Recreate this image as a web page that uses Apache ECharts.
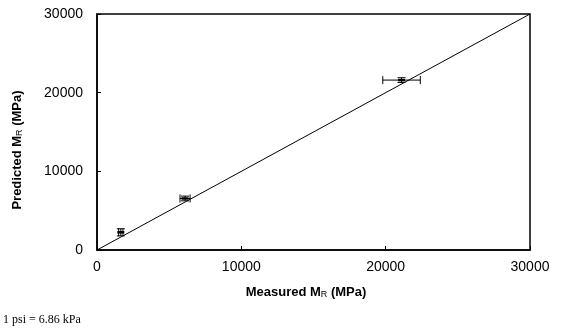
<!DOCTYPE html>
<html>
<head>
<meta charset="utf-8">
<script src="https://cdn.jsdelivr.net/npm/echarts@6/dist/echarts.min.js"></script>
<style>html,body{margin:0;padding:0;background:#fff}#c{width:563px;height:328px}</style>
</head>
<body>
<div id="c"></div>
<script>
var measured = [1650, 6100, 21100];
var predicted = [2250, 6550, 21600];
var measuredErr = [150, 350, 1300];
var predictedErr = [450, 300, 300];
var xTicks = [0, 10000, 20000, 30000];
var yTicks = [0, 10000, 20000, 30000];
var lineX = [0, 30000];

var chart = echarts.init(document.getElementById('c'));
var errData = measured.map(function (m, i) {
  return [m, predicted[i], measuredErr[i], predictedErr[i]];
});
var cap = 4;
var fmt = function (v) { return String(v); };
chart.setOption({
  animation: false,
  backgroundColor: '#fff',
  grid: { left: 97, top: 14, width: 433, height: 236, containLabel: false },
  xAxis: {
    type: 'value', min: xTicks[0], max: xTicks[xTicks.length - 1], interval: 10000,
    axisLine: { lineStyle: { color: '#000', width: 1.5 } },
    axisTick: { inside: true, length: 4, lineStyle: { color: '#000' } },
    axisLabel: { color: '#000', fontFamily: 'Liberation Sans, Arial', fontSize: 14, margin: 10, formatter: fmt },
    splitLine: { show: false }
  },
  yAxis: {
    type: 'value', min: yTicks[0], max: yTicks[yTicks.length - 1], interval: 10000,
    axisLine: { show: true, lineStyle: { color: '#000', width: 1.5 } },
    axisTick: { show: true, inside: true, length: 4, lineStyle: { color: '#000' } },
    axisLabel: { color: '#000', fontFamily: 'Liberation Sans, Arial', fontSize: 14, margin: 14, formatter: fmt },
    splitLine: { show: false }
  },
  graphic: [
    { type: 'rect', shape: { x: 97, y: 14, width: 433, height: 236 }, style: { fill: 'none', stroke: '#000', lineWidth: 1.5 }, silent: true, z: 0 },
    { type: 'text', x: 306, y: 292, style: {
        text: '{b|Measured M}{s|R}{b| (MPa)}', align: 'center', verticalAlign: 'middle',
        rich: { b: { fontFamily: 'Liberation Sans, Arial', fontWeight: 'bold', fontSize: 13, fill: '#000' },
                s: { fontFamily: 'Liberation Sans, Arial', fontWeight: 'normal', fontSize: 9, fill: '#000', padding: [6, 0, 0, 0] } } } },
    { type: 'text', x: 17, y: 150, rotation: Math.PI / 2, style: {
        text: '{b|Predicted M}{s|R}{b| (MPa)}', align: 'center', verticalAlign: 'middle',
        rich: { b: { fontFamily: 'Liberation Sans, Arial', fontWeight: 'bold', fontSize: 13, fill: '#000' },
                s: { fontFamily: 'Liberation Sans, Arial', fontWeight: 'normal', fontSize: 9, fill: '#000', padding: [6, 0, 0, 0] } } } },
    { type: 'text', x: 3, y: 320, style: { text: '1 psi = 6.86 kPa', verticalAlign: 'middle',
        font: '12px "Liberation Serif", "Times New Roman", serif', fill: '#000' } }
  ],
  series: [
    {
      type: 'line', data: lineX.map(function (v) { return [v, v]; }),
      showSymbol: false, symbol: 'none', lineStyle: { color: '#000', width: 1 }, z: 2
    },
    {
      type: 'custom', data: errData, z: 3,
      renderItem: function (params, api) {
        var x = api.value(0), y = api.value(1), ex = api.value(2), ey = api.value(3);
        var c = api.coord([x, y]);
        var xl = api.coord([x - ex, y]), xr = api.coord([x + ex, y]);
        var yt = api.coord([x, y + ey]), yb = api.coord([x, y - ey]);
        var L = function (x1, y1, x2, y2, w) {
          return { type: 'line', shape: { x1: x1, y1: y1, x2: x2, y2: y2 }, style: { stroke: '#000', lineWidth: w || 1 } };
        };
        return { type: 'group', children: [
          L(xl[0], c[1], xr[0], c[1]),
          L(xl[0], c[1] - cap, xl[0], c[1] + cap),
          L(xr[0], c[1] - cap, xr[0], c[1] + cap),
          L(c[0], yt[1], c[0], yb[1]),
          L(c[0] - cap, yt[1], c[0] + cap, yt[1]),
          L(c[0] - cap, yb[1], c[0] + cap, yb[1]),
          L(c[0] - 3.5, c[1], c[0] + 3.5, c[1], 2.5)
        ] };
      }
    }
  ]
});
</script>
</body>
</html>
